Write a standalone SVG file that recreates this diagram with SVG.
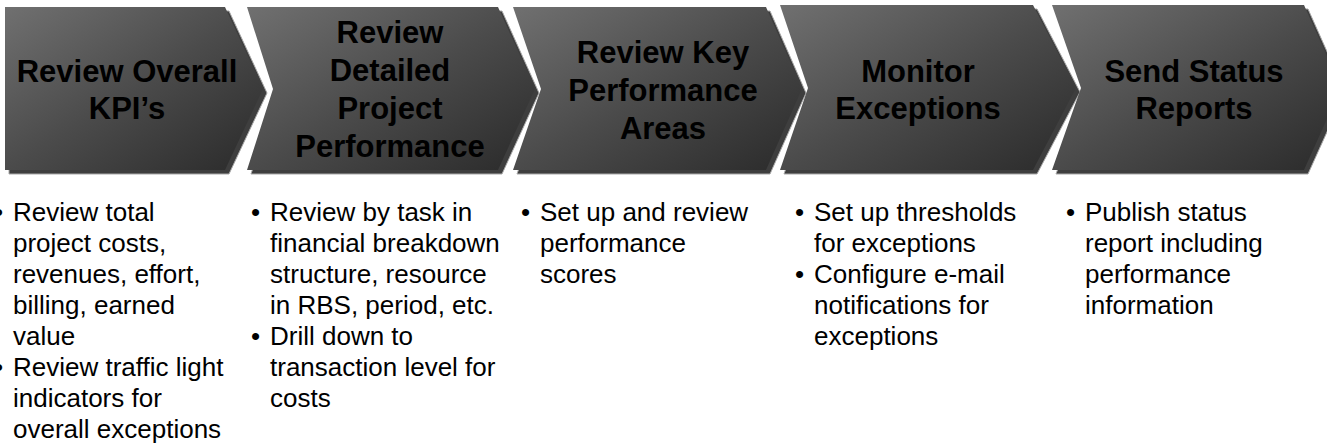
<svg xmlns="http://www.w3.org/2000/svg" width="1327" height="448" viewBox="0 0 1327 448">
<defs>
<linearGradient id="face" x1="0" y1="0" x2="1" y2="1">
<stop offset="0" stop-color="#707070"/>
<stop offset="0.5" stop-color="#4b4b4b"/>
<stop offset="1" stop-color="#2a2a2a"/>
</linearGradient>
<style>
.base{fill:#3e3e3e;stroke:#a8a8a8;stroke-width:1}
.face{fill:url(#face)}
.title{font-family:"Liberation Sans",Arial,sans-serif;font-weight:bold;font-size:31px;fill:#000;text-anchor:middle}
.body{font-family:"Liberation Sans",Arial,sans-serif;font-size:26px;fill:#000}
</style>
</defs>
<rect width="1327" height="448" fill="#fff"/>
<g id="connectors"></g>
<g id="step1">
<polygon class="base" transform="translate(4,4)" points="5,7 225,7 263,89 225,170 5,170"/>
<polygon class="face" points="5,7 225,7 263,89 225,170 5,170"/>
<text class="title" x="127" y="82">Review Overall</text>
<text class="title" x="127" y="119">KPI&#8217;s</text>
</g>
<g id="step2">
<polygon class="base" transform="translate(4,4)" points="247,7 498,7 535,89 498,170 247,170 273,89"/>
<polygon class="face" points="247,7 498,7 535,89 498,170 247,170 273,89"/>
<text class="title" x="390" y="43">Review</text>
<text class="title" x="390" y="81">Detailed</text>
<text class="title" x="390" y="119">Project</text>
<text class="title" x="390" y="157">Performance</text>
</g>
<g id="step3">
<polygon class="base" transform="translate(4,4)" points="513,7 766,7 802,89 766,170 513,170 541,89"/>
<polygon class="face" points="513,7 766,7 802,89 766,170 513,170 541,89"/>
<text class="title" x="663" y="63">Review Key</text>
<text class="title" x="663" y="101">Performance</text>
<text class="title" x="663" y="139">Areas</text>
</g>
<g id="step4">
<polygon class="base" transform="translate(4,4)" points="780,5 1033,5 1076,88 1033,170 780,170 808,88"/>
<polygon class="face" points="780,5 1033,5 1076,88 1033,170 780,170 808,88"/>
<text class="title" x="918" y="82">Monitor</text>
<text class="title" x="918" y="119">Exceptions</text>
</g>
<g id="step5">
<polygon class="base" transform="translate(4,4)" points="1052,5 1304,5 1341,88 1304,170 1052,170 1081,88"/>
<polygon class="face" points="1052,5 1304,5 1341,88 1304,170 1052,170 1081,88"/>
<text class="title" x="1194" y="82">Send Status</text>
<text class="title" x="1194" y="119">Reports</text>
</g>
<g id="notes1" class="body">
<text x="-6" y="221">•</text><text x="13" y="221">Review total</text>
<text x="13" y="252">project costs,</text>
<text x="13" y="283">revenues, effort,</text>
<text x="13" y="314">billing, earned</text>
<text x="13" y="345">value</text>
<text x="-6" y="376">•</text><text x="13" y="376">Review traffic light</text>
<text x="13" y="407">indicators for</text>
<text x="13" y="438">overall exceptions</text>
</g>
<g id="notes2" class="body">
<text x="251" y="221">•</text><text x="270" y="221">Review by task in</text>
<text x="270" y="252">financial breakdown</text>
<text x="270" y="283">structure, resource</text>
<text x="270" y="314">in RBS, period, etc.</text>
<text x="251" y="345">•</text><text x="270" y="345">Drill down to</text>
<text x="270" y="376">transaction level for</text>
<text x="270" y="407">costs</text>
</g>
<g id="notes3" class="body">
<text x="521" y="221">•</text><text x="540" y="221">Set up and review</text>
<text x="540" y="252">performance</text>
<text x="540" y="283">scores</text>
</g>
<g id="notes4" class="body">
<text x="795" y="221">•</text><text x="814" y="221">Set up thresholds</text>
<text x="814" y="252">for exceptions</text>
<text x="795" y="283">•</text><text x="814" y="283">Configure e-mail</text>
<text x="814" y="314">notifications for</text>
<text x="814" y="345">exceptions</text>
</g>
<g id="notes5" class="body">
<text x="1066" y="221">•</text><text x="1085" y="221">Publish status</text>
<text x="1085" y="252">report including</text>
<text x="1085" y="283">performance</text>
<text x="1085" y="314">information</text>
</g>
</svg>
